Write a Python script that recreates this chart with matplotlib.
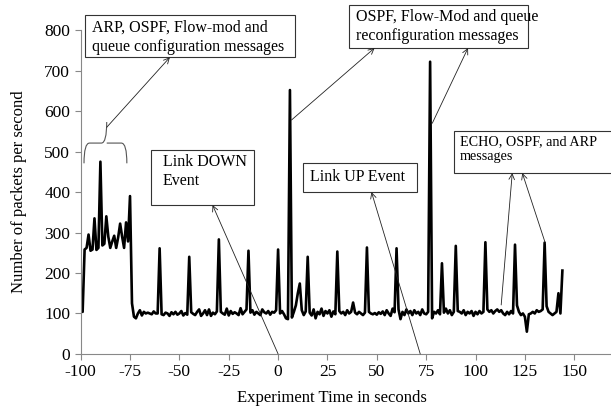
import numpy as np
import matplotlib
matplotlib.use("Agg")
import matplotlib.pyplot as plt
from matplotlib.path import Path
from matplotlib.patches import PathPatch, Rectangle

plt.rcParams["font.family"] = ["Liberation Serif", "DejaVu Serif"]
plt.rcParams["axes.unicode_minus"] = False

# packets per second, one sample per second from t = -100 to t = 144
t_start = -100
packets = [
  105, 104, 258, 262, 295, 255, 258, 335, 257, 262,   # -100
  475, 268, 272, 340, 290, 262, 278, 292, 262, 288,   # -90
  322, 290, 262, 325, 278, 390, 125, 92, 88, 100,     # -80
  108, 95, 104, 100, 102, 100, 98, 105, 100, 100,     # -70
  261, 98, 96, 102, 100, 94, 103, 98, 104, 97,        # -60
  100, 106, 95, 101, 97, 240, 103, 99, 96, 104,       # -50
  110, 94, 100, 108, 96, 110, 94, 102, 98, 105,       # -40
  283, 104, 100, 97, 112, 95, 106, 99, 103, 100,      # -30
  96, 113, 98, 104, 110, 255, 102, 108, 97, 104,      # -20
  100, 96, 110, 103, 100, 106, 97, 104, 102, 108,     # -10
  258, 100, 106, 98, 88, 86, 652, 90, 104, 120,       # 0
  150, 174, 108, 96, 105, 240, 102, 95, 110, 88,      # 10
  104, 98, 112, 94, 106, 100, 108, 92, 105, 98,       # 20
  253, 106, 100, 104, 96, 108, 100, 104, 127, 102,    # 30
  98, 104, 100, 96, 102, 263, 104, 100, 98, 101,      # 40
  97, 103, 99, 105, 96, 108, 100, 94, 112, 103,       # 50
  261, 110, 86, 104, 96, 110, 100, 106, 96, 108,      # 60
  100, 104, 96, 110, 100, 98, 104, 722, 88, 104,      # 70
  100, 108, 98, 224, 102, 112, 100, 108, 96, 104,     # 80
  267, 106, 104, 100, 108, 96, 104, 100, 106, 94,     # 90
  104, 98, 106, 100, 104, 276, 110, 104, 108, 100,    # 100
  106, 110, 104, 108, 100, 96, 104, 98, 106, 100,     # 110
  270, 120, 104, 96, 100, 92, 55, 98, 100, 104,       # 120
  100, 108, 104, 106, 110, 275, 118, 104, 100, 96,    # 130
  100, 104, 150, 100, 206,                            # 140
]
seconds = np.arange(t_start, t_start + len(packets))

x_ticks = [-100, -75, -50, -25, 0, 25, 50, 75, 100, 125, 150]
y_ticks = [0, 100, 200, 300, 400, 500, 600, 700, 800]

fig = plt.figure(figsize=(6.11, 4.13), dpi=100)
ax = fig.add_axes([0.132, 0.143, 0.866, 0.784])

ax.plot(seconds, packets, color="black", lw=1.9, solid_joinstyle="round")

ax.set_xlim(-100, 168)
ax.set_ylim(0, 800)
ax.set_xticks(x_ticks)
ax.set_yticks(y_ticks)
ax.tick_params(labelsize=12.5, color="#888888", length=4, width=0.8)
for side in ("top", "right"):
  ax.spines[side].set_visible(False)
for side in ("left", "bottom"):
  ax.spines[side].set_color("#888888")
  ax.spines[side].set_linewidth(0.8)

ax.set_xlabel("Experiment Time in seconds", fontsize=12)
ax.set_ylabel("Number of packets per second", fontsize=12)
ax.xaxis.set_label_coords(0.475, -0.111)
ax.yaxis.set_label_coords(-0.102, 0.5)

# callout boxes: (left, right, bottom, top) in data units, text anchor, text, size
callouts = [
  ((-97.8, 8.4, 733, 837), (-94.3, 826), "ARP, OSPF, Flow-mod and\nqueue configuration messages", 11.5),
  ((-64.4, -12.3, 368, 504), (-58.4, 494), "Link DOWN\nEvent", 11.5),
  ((35.8, 126.4, 756, 862), (39.3, 852), "OSPF, Flow-Mod and queue\nreconfiguration messages", 11.5),
  ((12.5, 70.2, 400, 472), (16.0, 437), "Link UP Event", 11.5),
  ((89.0, 169.0, 447, 551), (92.0, 541), "ECHO, OSPF, and ARP\nmessages", 10.2),
]
for (x0, x1, y0, y1), (tx, ty), label, size in callouts:
  ax.add_patch(Rectangle((x0, y0), x1 - x0, y1 - y0, fc="white", ec="#333333",
                         lw=0.8, clip_on=False, zorder=3))
  va = "center" if "\n" not in label else "top"
  ax.text(tx, ty, label, fontsize=size, ha="left", va=va, linespacing=1.25,
          clip_on=False, zorder=4)

arrows = [
  ((-86.8, 560), (-54.8, 733)),
  ((0, 0), (-33.2, 368)),
  ((6.8, 578), (48.9, 756)),
  ((78.1, 570), (96.2, 756)),
  ((72, 0), (47.3, 400)),
  ((113, 121), (118.6, 447)),
  ((135.4, 273), (123.7, 447)),
]
for tail, head in arrows:
  ax.annotate("", xy=head, xytext=tail, annotation_clip=False,
              arrowprops=dict(arrowstyle="->", lw=0.6, color="#222222",
                              shrinkA=0, shrinkB=0))

# curly brace over the start-up burst
brace = Path(
  [(-98.3, 471), (-98.3, 521), (-95.5, 521), (-89.5, 521), (-86.8, 521), (-86.8, 573),
   (-86.8, 521), (-84.1, 521), (-79.4, 521), (-76.6, 521), (-76.6, 471)],
  [Path.MOVETO, Path.CURVE3, Path.CURVE3, Path.LINETO, Path.CURVE3, Path.CURVE3,
   Path.MOVETO, Path.CURVE3, Path.LINETO, Path.CURVE3, Path.CURVE3],
)
ax.add_patch(PathPatch(brace, fc="none", ec="#555555", lw=0.8))

fig.savefig("out.png", dpi=100)
